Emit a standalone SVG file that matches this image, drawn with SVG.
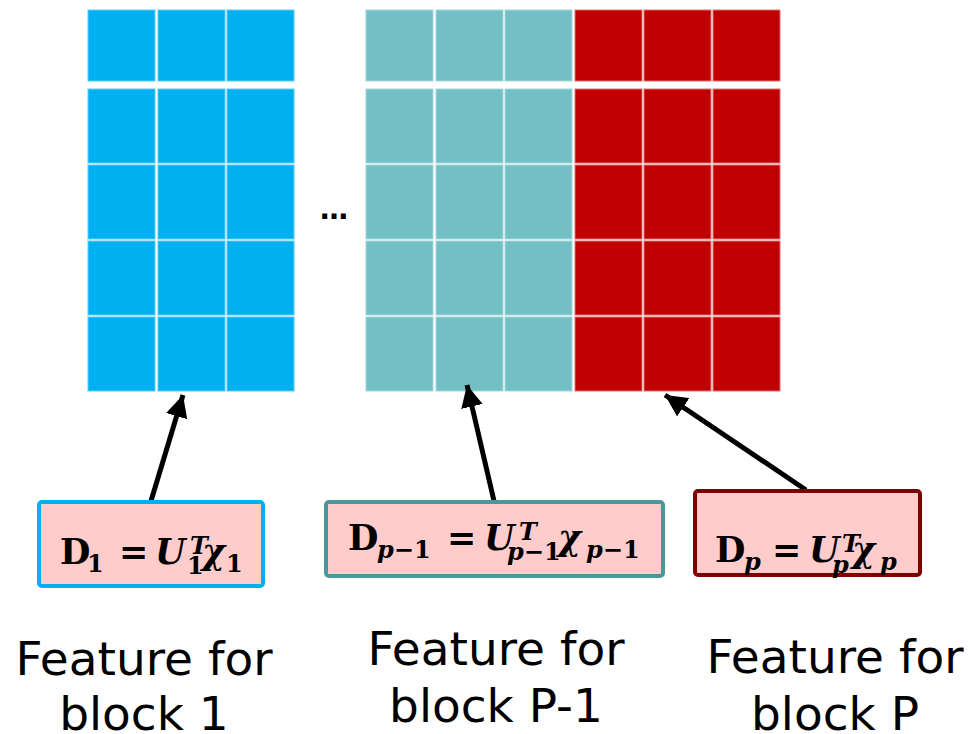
<svg xmlns="http://www.w3.org/2000/svg" width="972" height="734" viewBox="0 0 972 734">
<style>
.b{fill:#00B0F0;stroke:#5CCBF5;stroke-width:1}
.t{fill:#72BFC5;stroke:#A6D7DB;stroke-width:1}
.r{fill:#C00000;stroke:#E07070;stroke-width:1}
.box{fill:#FFCCCC;stroke-width:4}
.m{font-family:"DejaVu Serif","Liberation Serif",serif;font-weight:bold;fill:#000;font-size:35px}
.s{font-size:24px}
.mi{font-style:italic}
.lbl{font-family:"DejaVu Sans",Verdana,sans-serif;font-size:47px;fill:#000;text-anchor:middle}
.arr{stroke:#000;stroke-width:5;fill:none}
</style>
<defs>
<marker id="ah" markerUnits="userSpaceOnUse" markerWidth="24" markerHeight="22" refX="22" refY="11" orient="auto">
<path d="M0,0 L22,11 L0,22 Z" fill="#000"/>
</marker>
<g id="col3b">
<rect class="b" x="0" y="0" width="67" height="71"/>
<rect class="b" x="0" y="79" width="67" height="74"/>
<rect class="b" x="0" y="155" width="67" height="74"/>
<rect class="b" x="0" y="231" width="67" height="74"/>
<rect class="b" x="0" y="307" width="67" height="74"/>
</g>
<g id="col3t">
<rect class="t" x="0" y="0" width="67" height="71"/>
<rect class="t" x="0" y="79" width="67" height="74"/>
<rect class="t" x="0" y="155" width="67" height="74"/>
<rect class="t" x="0" y="231" width="67" height="74"/>
<rect class="t" x="0" y="307" width="67" height="74"/>
</g>
<g id="col3r">
<rect class="r" x="0" y="0" width="67" height="71"/>
<rect class="r" x="0" y="79" width="67" height="74"/>
<rect class="r" x="0" y="155" width="67" height="74"/>
<rect class="r" x="0" y="231" width="67" height="74"/>
<rect class="r" x="0" y="307" width="67" height="74"/>
</g>
</defs>
<rect width="972" height="734" fill="#fff"/>

<g id="grid-block1">
<use href="#col3b" x="88" y="10"/>
<use href="#col3b" x="158" y="10"/>
<use href="#col3b" x="227" y="10"/>
</g>
<g id="grid-blockP-1">
<use href="#col3t" x="366" y="10"/>
<use href="#col3t" x="436" y="10"/>
<use href="#col3t" x="505" y="10"/>
</g>
<g id="grid-blockP">
<use href="#col3r" x="575" y="10"/>
<use href="#col3r" x="644" y="10"/>
<use href="#col3r" x="713" y="10"/>
</g>
<g id="ellipsis">
<text x="320" y="219" style="font-family:'DejaVu Sans',sans-serif;font-size:28px;font-weight:bold">…</text>
</g>

<g id="connectors">
<line class="arr" x1="151" y1="501" x2="183" y2="395" marker-end="url(#ah)"/>
<line class="arr" x1="494" y1="501" x2="467" y2="385" marker-end="url(#ah)"/>
<line class="arr" x1="806" y1="490" x2="665" y2="395" marker-end="url(#ah)"/>
</g>

<g id="box1">
<rect class="box" x="39" y="502" width="224" height="84" rx="3" stroke="#00B0F0"/>
<text class="m" x="60" y="564">D</text>
<text class="m s" x="87" y="572">1</text>
<text class="m" x="119" y="564">=</text>
<text class="m mi" x="155" y="564">U</text>
<text class="m mi s" x="190" y="554">T</text>
<text class="m s" x="187" y="574">1</text>
<text class="m mi" x="202" y="564">χ</text>
<text class="m s" x="226" y="572">1</text>
</g>

<g id="box2">
<rect class="box" x="326" y="502" width="337" height="74" rx="3" stroke="#4A979C"/>
<text class="m" x="348" y="550">D</text>
<text class="m s" x="377" y="558"><tspan class="mi">p</tspan>−1</text>
<text class="m" x="447" y="550">=</text>
<text class="m mi" x="484" y="550">U</text>
<text class="m mi s" x="519" y="540">T</text>
<text class="m s" x="507" y="560"><tspan class="mi">p</tspan>−1</text>
<text class="m mi" x="558" y="550">χ</text>
<text class="m s" x="586" y="558"><tspan class="mi">p</tspan>−1</text>
</g>

<g id="box3">
<rect class="box" x="695" y="491" width="225" height="84" rx="3" stroke="#7F0000"/>
<text class="m" x="715" y="562">D</text>
<text class="m mi s" x="744" y="570">p</text>
<text class="m" x="772" y="562">=</text>
<text class="m mi" x="809" y="562">U</text>
<text class="m mi s" x="842" y="552">T</text>
<text class="m mi s" x="832" y="573">p</text>
<text class="m mi" x="852" y="562">χ</text>
<text class="m mi s" x="880" y="570">p</text>
</g>

<g id="label1">
<text class="lbl" x="144" y="675">Feature for</text>
<text class="lbl" x="144" y="730">block 1</text>
</g>
<g id="label2">
<text class="lbl" x="496" y="665">Feature for</text>
<text class="lbl" x="496" y="722">block P-1</text>
</g>
<g id="label3">
<text class="lbl" x="835" y="673">Feature for</text>
<text class="lbl" x="835" y="730">block P</text>
</g>
</svg>
